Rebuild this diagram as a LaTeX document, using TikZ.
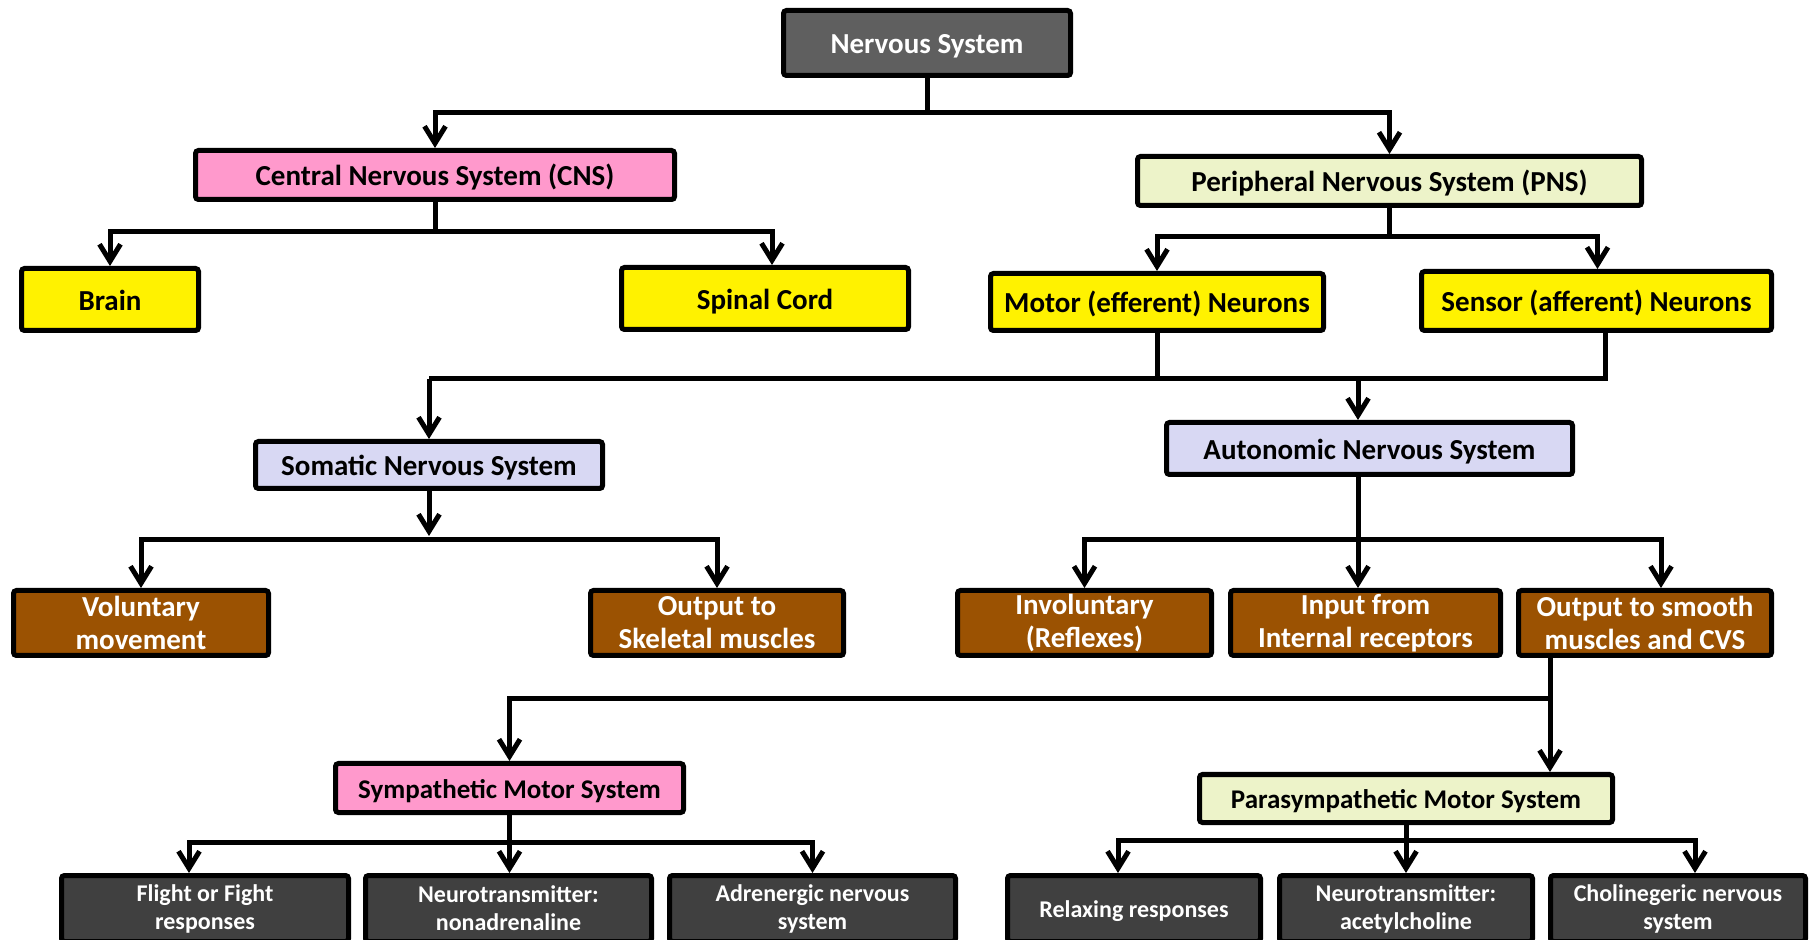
\documentclass[tikz,border=0pt]{standalone}
\usepackage{fontspec}
\setmainfont{Carlito}
\usetikzlibrary{arrows.meta,shadows}
\definecolor{nsgray}{HTML}{5F5F5F}
\definecolor{dkgray}{HTML}{404040}
\definecolor{pinkbox}{HTML}{FF99CC}
\definecolor{olivebox}{HTML}{EDF3C9}
\definecolor{lavbox}{HTML}{D8D8F3}
\definecolor{brownbox}{HTML}{9B5202}
\tikzset{
  box/.style={draw=black, line width=2.5pt, rounded corners=1.5pt, inner sep=0pt, align=center,
    drop shadow={shadow xshift=1pt, shadow yshift=-1pt, fill=black!45, opacity=0.8}},
  oneline/.style={text height=11pt, text depth=0pt},
  onelinesym/.style={text height=10.2pt, text depth=0pt},
  onelinesmall/.style={text height=9pt, text depth=0pt},
  mainfont/.style={font=\fontsize{14.5}{16.5}\selectfont\bfseries},
  symfont/.style={font=\fontsize{13.5}{15.5}\selectfont\bfseries},
  smallfont/.style={font=\fontsize{12}{14}\selectfont\bfseries},
  topbox/.style={box, mainfont, oneline, fill=nsgray, text=white},
  pinkb/.style={box, fill=pinkbox, text=black},
  oliveb/.style={box, fill=olivebox, text=black},
  yellowb/.style={box, mainfont, oneline, fill=yellow, text=black},
  lavb/.style={box, mainfont, oneline, fill=lavbox, text=black},
  brownb/.style={box, mainfont, fill=brownbox, text=white},
  darkb/.style={box, smallfont, fill=dkgray, text=white},
  conn/.style={draw=black, line width=2.5pt, line join=miter},
  arr/.style={conn, -{Straight Barb[length=8.5pt,width=10.5pt]}}
}
\begin{document}
\begin{tikzpicture}[x=0.5pt,y=-0.5pt]
\fill[white] (0,0) rectangle (1816,940);
\clip (0,0) rectangle (1816,940);
% nodes
\node[topbox, minimum width=143.5pt, minimum height=32.5pt] (ns) at (927,43) {Nervous System};
\node[pinkb, mainfont, oneline, minimum width=239.5pt, minimum height=24.5pt] (cns) at (435,175) {Central Nervous System (CNS)};
\node[oliveb, mainfont, oneline, minimum width=252pt, minimum height=24.5pt] (pns) at (1389.5,181) {Peripheral Nervous System (PNS)};
\node[yellowb, minimum width=88.5pt, minimum height=31pt] (brain) at (110,299.5) {Brain};
\node[yellowb, minimum width=143.5pt, minimum height=31pt] (spinal) at (765,298.5) {Spinal Cord};
\node[yellowb, minimum width=166.5pt, minimum height=28.5pt] (motor) at (1157,302) {Motor (efferent) Neurons};
\node[yellowb, minimum width=175pt, minimum height=29.5pt] (sensor) at (1596.5,301) {Sensor (afferent) Neurons};
\node[lavb, minimum width=173.5pt, minimum height=23.5pt] (som) at (429,465) {Somatic Nervous System};
\node[lavb, minimum width=203pt, minimum height=26pt] (aut) at (1369.5,448.5) {Autonomic Nervous System};
\node[brownb, minimum width=127.5pt, minimum height=32.5pt] (vol) at (141,623) {Voluntary\\movement};
\node[brownb, minimum width=126.5pt, minimum height=32.5pt] (skel) at (717,623) {Output to\\Skeletal muscles};
\node[brownb, minimum width=127pt, minimum height=32.5pt] (invol) at (1084.5,623) {Involuntary\\(Reflexes)};
\node[brownb, minimum width=135pt, minimum height=32.5pt] (input) at (1365.5,623) {Input from\\Internal receptors};
\node[brownb, minimum width=126.5pt, minimum height=32.5pt] (outsm) at (1645,623) {Output to smooth\\muscles and CVS};
\node[pinkb, symfont, onelinesym, minimum width=174pt, minimum height=24.5pt] (sym) at (509.5,788) {Sympathetic Motor System};
\node[oliveb, symfont, onelinesym, minimum width=206.5pt, minimum height=24pt] (para) at (1406,798.5) {Parasympathetic Motor System};
\node[darkb, minimum width=143.5pt, minimum height=33pt] (flight) at (205,908.5) {Flight or Fight\\responses};
\node[darkb, minimum width=143pt, minimum height=33pt] (neuro1) at (508.5,908.5) {Neurotransmitter:\\nonadrenaline};
\node[darkb, minimum width=143pt, minimum height=33pt] (adren) at (812.5,908.5) {Adrenergic nervous\\system};
\node[darkb, onelinesmall, minimum width=126.5pt, minimum height=33pt] (relax) at (1134,908.5) {Relaxing responses};
\node[darkb, minimum width=126.5pt, minimum height=33pt] (neuro2) at (1406,908.5) {Neurotransmitter:\\acetylcholine};
\node[darkb, minimum width=127.5pt, minimum height=33pt] (cholin) at (1678,908.5) {Cholinegeric nervous\\system};
% junctions
\coordinate (j0) at (927,113);
\coordinate (j1) at (435,232);
\coordinate (j2) at (1389.5,237);
\coordinate (bL) at (429,379);
\coordinate (bR) at (1605,379);
\coordinate (bA) at (1358,379);
\coordinate (s3) at (429,540);
\coordinate (a3) at (1358,540);
\coordinate (o1) at (1550,699);
\coordinate (y1) at (509.5,842);
\coordinate (p1) at (1406,840);
% connectors
\draw[arr] (ns.south) -- (j0) -| (cns.north);
\draw[arr] (j0) -| (pns.north);
\draw[arr] (cns.south) -- (j1) -| (brain.north);
\draw[arr] (j1) -| ([xshift=3.5pt]spinal.north);
\draw[arr] (pns.south) -- (j2) -| (motor.north);
\draw[arr] (j2) -| ([xshift=0.5pt]sensor.north);
\draw[conn] (motor.south) -- (motor.south |- bL);
\draw[conn] (sensor.south -| bR) -- (bR) -- (bL);
\draw[arr] (bL) -- (som.north);
\draw[arr] (bA) -- (bA |- aut.north);
\draw[arr] (som.south) -- ([yshift=2pt]s3);
\draw[arr] (s3) -| (vol.north);
\draw[arr] (s3) -| (skel.north);
\draw[conn] (aut.south -| a3) -- (a3);
\draw[arr] (a3) -| (invol.north);
\draw[arr] (a3) -- (a3 |- input.north);
\draw[arr] (a3) -| ([xshift=8pt]outsm.north);
\draw[conn] (outsm.south -| o1) -- (o1);
\draw[arr] (o1) -| (sym.north);
\draw[arr] (o1) -- (o1 |- para.north);
\draw[conn] (sym.south) -- (y1);
\draw[arr] (y1) -| ([xshift=-8pt]flight.north);
\draw[arr] (y1) -- (neuro1.north -| y1);
\draw[arr] (y1) -| (adren.north);
\draw[conn] (para.south) -- (p1);
\draw[arr] (p1) -| ([xshift=-8pt]relax.north);
\draw[arr] (p1) -- (neuro2.north);
\draw[arr] (p1) -| ([xshift=8.5pt]cholin.north);
\end{tikzpicture}
\end{document}
